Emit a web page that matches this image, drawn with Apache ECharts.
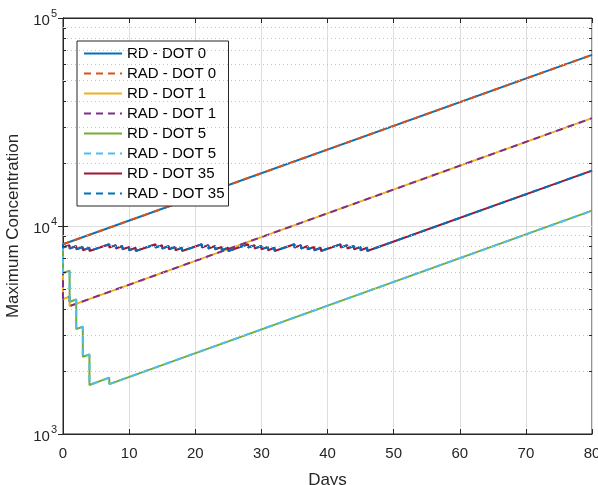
<!DOCTYPE html>
<html>
<head>
<meta charset="utf-8">
<script src="https://cdn.jsdelivr.net/npm/echarts@6/dist/echarts.min.js"></script>
<style>
html,body{margin:0;padding:0;background:#fff;}
#c{width:598px;height:485px;}
</style>
</head>
<body>
<div id="c"></div>
<script>
// ---- data ----
var seriesNames = ['RD - DOT 0','RAD - DOT 0','RD - DOT 1','RAD - DOT 1','RD - DOT 5','RAD - DOT 5','RD - DOT 35','RAD - DOT 35'];
var xTicks = [0,10,20,30,40,50,60,70,80];
var yTicks = [1000,10000,100000];
var yMinorTicks = [2000,3000,4000,5000,6000,7000,8000,9000,20000,30000,40000,50000,60000,70000,80000,90000];

var dot0 = [[0,8170],[80,66500]];
var dot1 = [[0,8170],[0,4460],[1,4570],[1,4120],[80,33000]];
var dot5 = [[0,8170],[0,5940],[1,6100],[1,4320],[2,4430],[2,3200],[3,3280],[3,2350],[4,2410],[4,1720],[7,1866],[7,1738],[80,11850]];
var dot35 = [
 [0,8170],[0,7880],[1,8090],[1,7800],[2,8010],[2,7730],[3,7930],[3,7650],[4,7860],[4,7580],
 [7,8170],[7,7880],[8,8090],[8,7800],[9,8010],[9,7730],[10,7930],[10,7650],[11,7860],[11,7580],
 [14,8170],[14,7880],[15,8090],[15,7800],[16,8010],[16,7730],[17,7930],[17,7650],[18,7860],[18,7580],
 [21,8170],[21,7880],[22,8090],[22,7800],[23,8010],[23,7730],[24,7930],[24,7650],[25,7860],[25,7580],
 [28,8170],[28,7880],[29,8090],[29,7800],[30,8010],[30,7730],[31,7930],[31,7650],[32,7860],[32,7580],
 [35,8170],[35,7880],[36,8090],[36,7800],[37,8010],[37,7730],[38,7930],[38,7650],[39,7860],[39,7580],
 [42,8170],[42,7880],[43,8090],[43,7800],[44,8010],[44,7730],[45,7930],[45,7650],[46,7860],[46,7580],
 [80,18450]
];

var colors = ['#0072BD','#D95319','#EDB120','#7E2F8E','#77AC30','#4DBEEE','#A2142F','#0072BD'];
var seriesData = [dot0,dot0,dot1,dot1,dot5,dot5,dot35,dot35];

var FONT = '"Liberation Sans", Arial, Helvetica, sans-serif';
var chart = echarts.init(document.getElementById('c'), null, {renderer:'canvas'});

var series = [{
  name:'grid', type:'line', data:[], z:1, silent:true,
  markLine:{silent:true, symbol:['none','none'], label:{show:false}, animation:false,
    lineStyle:{color:'#c4c4c4', type:[1,3], width:1},
    data: yMinorTicks.map(function(v){return {yAxis:v};})}
}];
seriesNames.forEach(function(n,i){
  var dashed = n.indexOf('RAD') === 0;
  series.push({
    name:n, type:'line', data:seriesData[i], showSymbol:false, symbol:'none',
    animation:false, z:3,
    lineStyle:{color:colors[i], width:2, type: dashed ? [7,5] : 'solid'},
    itemStyle:{color:colors[i]}
  });
});

var option = {
  backgroundColor:'#fff',
  animation:false,
  grid:{left:63, right:6, top:18, bottom:51, show:true, borderColor:'#262626', borderWidth:1,
        backgroundColor:'transparent', containLabel:false, outerBoundsMode:'none'},
  legend:{
    data: seriesNames, orient:'vertical', left:77, top:41,
    backgroundColor:'#fff', borderColor:'#262626', borderWidth:1,
    padding:[5,4,5,6], itemWidth:38, itemHeight:13, itemGap:5,
    itemStyle:{opacity:0, borderWidth:0},
    textStyle:{fontFamily:FONT, fontSize:15, color:'#000'}
  },
  xAxis:[{
    type:'value', min:0, max:80, interval:10, position:'bottom',
    name:'Days', nameLocation:'middle', nameGap:38,
    nameTextStyle:{fontFamily:FONT, fontSize:17, color:'#262626'},
    axisLine:{show:true, lineStyle:{color:'#262626'}},
    axisTick:{show:true, inside:true, length:5, lineStyle:{color:'#262626'}},
    axisLabel:{fontFamily:FONT, fontSize:15, color:'#262626', margin:12},
    splitLine:{show:true, lineStyle:{color:'#dedede', width:1}}
  },{
    type:'value', min:0, max:80, interval:10, position:'top',
    axisLine:{show:true, lineStyle:{color:'#262626'}},
    axisTick:{show:true, inside:true, length:5, lineStyle:{color:'#262626'}},
    axisLabel:{show:false}, splitLine:{show:false}
  }],
  yAxis:[{
    type:'log', logBase:10, min:1000, max:100000, splitNumber:2,
    name:'Maximum Concentration', nameLocation:'middle', nameGap:36,
    nameTextStyle:{fontFamily:FONT, fontSize:17, color:'#262626'},
    axisLine:{show:true, lineStyle:{color:'#262626'}},
    axisTick:{show:true, inside:true, length:5, lineStyle:{color:'#262626'}},
    axisLabel:{margin:6, color:'#262626',
      formatter:function(v){return '{b|10}{s|' + Math.round(Math.log10(v)) + '}';},
      rich:{b:{fontFamily:FONT, fontSize:15, color:'#262626', padding:[6,0,0,0]},
            s:{fontFamily:FONT, fontSize:11, color:'#262626', padding:[0,0,9,1]}}},
    splitLine:{show:true, lineStyle:{color:'#dedede', width:1}}
  },{
    type:'log', logBase:10, min:1000, max:100000, splitNumber:2, position:'right',
    axisLine:{show:true, lineStyle:{color:'#262626'}},
    axisTick:{show:true, inside:true, length:5, lineStyle:{color:'#262626'}},
    axisLabel:{show:false}, splitLine:{show:false}
  }],
  series: series
};
chart.setOption(option);

// minor ticks on left and right y axes (positions from the library's scale)
var gLeft = chart.convertToPixel({xAxisIndex:0}, 0);
var gRight = chart.convertToPixel({xAxisIndex:0}, 80);
var graphics = [];
yMinorTicks.forEach(function(v){
  var py = Math.round(chart.convertToPixel({yAxisIndex:0}, v)) + 0.5;
  graphics.push({type:'line', silent:true, z:10, shape:{x1:gLeft, y1:py, x2:gLeft+3, y2:py}, style:{stroke:'#262626', lineWidth:1}});
  graphics.push({type:'line', silent:true, z:10, shape:{x1:gRight-3, y1:py, x2:gRight, y2:py}, style:{stroke:'#262626', lineWidth:1}});
});
chart.setOption({graphic: graphics});
</script>
</body>
</html>
